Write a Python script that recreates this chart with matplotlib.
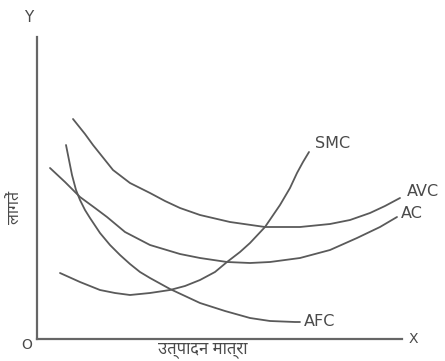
import matplotlib
matplotlib.use("Agg")
import matplotlib.pyplot as plt

# cost curves (x = output, y = cost)
avc_x = [36, 48, 56, 76, 93, 113, 128, 143, 163, 193, 228, 263, 293, 313, 333, 348, 363]
avc_y = [220, 205, 194, 169, 156, 146, 138, 131, 124, 117, 112, 112, 115, 119, 126, 133, 141]

ac_x = [13, 28, 43, 58, 70, 88, 113, 143, 163, 190, 213, 233, 263, 293, 320, 343, 360]
ac_y = [171, 157, 142, 131, 122, 107, 94, 85, 81, 77, 76, 77, 81, 89, 101, 112, 122]

smc_x = [23, 43, 63, 78, 93, 113, 133, 148, 163, 178, 190, 203, 213, 228, 243, 253, 260, 266, 272]
smc_y = [66, 57, 49, 46, 44, 46, 49, 53, 59, 67, 77, 87, 96, 112, 134, 151, 166, 177, 187]

afc_x = [29, 32, 35, 39, 43, 48, 53, 63, 73, 83, 93, 103, 113, 133, 148, 163, 188, 213, 233, 258, 263]
afc_y = [194, 179, 164, 149, 139, 129, 121, 106, 94, 84, 75, 67, 61, 50, 43, 36, 28, 21, 18, 17, 17]

curve_names = ["AVC", "AC", "SMC", "AFC"]

line_col = "#5a5a5a"
text_col = "#4a4a4a"
hindi = ["Noto Sans Devanagari UI", "Mukta", "DejaVu Sans"]

fig = plt.figure(figsize=(4.45, 3.61), dpi=100)
ax = fig.add_axes([0, 0, 1, 1])
ax.set_xlim(-37, 408)
ax.set_ylim(-22, 339)

for s in ["top", "right"]:
    ax.spines[s].set_visible(False)
ax.spines["left"].set_position(("data", 0))
ax.spines["bottom"].set_position(("data", 0))
ax.spines["left"].set_bounds(0, 302)
ax.spines["bottom"].set_bounds(0, 365)
for s in ["left", "bottom"]:
    ax.spines[s].set_color("#666666")
    ax.spines[s].set_linewidth(1.6)
ax.set_xticks([])
ax.set_yticks([])
ax.patch.set_alpha(0)

kw = dict(color=line_col, lw=1.3, solid_capstyle="round", solid_joinstyle="round")
ax.plot(avc_x, avc_y, **kw)
ax.plot(ac_x, ac_y, **kw)
ax.plot(smc_x, smc_y, **kw)
ax.plot(afc_x, afc_y, **kw)

lab = dict(color=text_col, fontsize=11.5, family="DejaVu Sans")
ax.text(avc_x[-1] + 7, avc_y[-1] + 6, curve_names[0], ha="left", va="center", **lab)
ax.text(ac_x[-1] + 4, ac_y[-1] + 4, curve_names[1], ha="left", va="center", **lab)
ax.text(smc_x[-1] + 6, smc_y[-1] + 8, curve_names[2], ha="left", va="center", **lab)
ax.text(afc_x[-1] + 4, afc_y[-1], curve_names[3], ha="left", va="center", **lab)

ax.text(-8, 322, "Y", ha="center", va="center", fontsize=11, color=text_col)
ax.text(376, 0, "X", ha="center", va="center", fontsize=10, color=text_col)
ax.text(-10, -6, "O", ha="center", va="center", fontsize=10, color=text_col)

ax.text(166, -11, "उत्पादन मात्रा", ha="center", va="center", fontsize=12,
        color=text_col, family=hindi)
ax.text(-21, 132, "लागतें", ha="center", va="center", fontsize=11.5,
        color=text_col, family=hindi, rotation=90)

fig.savefig("out.png", dpi=100, facecolor="white")
